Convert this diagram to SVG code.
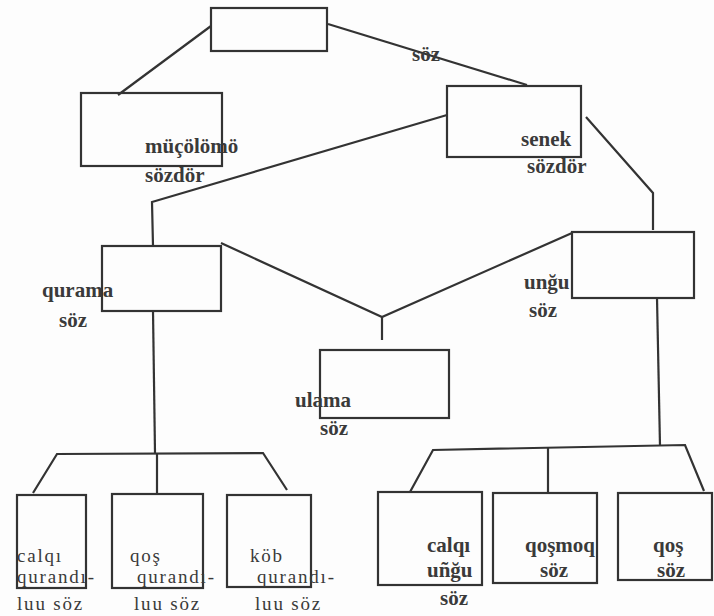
<svg xmlns="http://www.w3.org/2000/svg" width="714" height="616" viewBox="0 0 714 616">
<style>
.box{fill:none;stroke:#333;stroke-width:2.2}
.ln{fill:none;stroke:#333;stroke-width:2.2;stroke-linejoin:miter}
.b{font-family:"Liberation Serif",serif;font-weight:bold;font-size:21px;fill:#3a3a3a}
.r{font-family:"Liberation Serif",serif;font-size:19px;fill:#3a3a3a;letter-spacing:1.8px}
</style>
<rect width="714" height="616" fill="#fdfdfd"/>
<g id="connectors">
<polyline class="ln" points="211,26 118,95"/>
<polyline class="ln" points="328,24 527,85"/>
<polyline class="ln" points="447,115 152,202 153,246"/>
<polyline class="ln" points="586,117 653,193 653,230"/>
<polyline class="ln" points="221,243 382,317 572,233"/>
<polyline class="ln" points="382,317 382,340"/>
<polyline class="ln" points="153,311 155,453"/>
<polyline class="ln" points="33,493 57,454 263,453 287,490"/>
<polyline class="ln" points="157,453 157,494"/>
<polyline class="ln" points="657,298 660,446"/>
<polyline class="ln" points="410,492 433,450 685,445 704,491"/>
<polyline class="ln" points="548,448 548,493"/>
</g>
<g id="root"><rect class="box" x="211" y="8" width="116" height="43"/></g>
<text class="b" x="412" y="61">söz</text>
<g id="mucolomo"><rect class="box" x="81" y="93" width="141" height="73"/>
<text class="b" x="145" y="153">müçölömö</text><text class="b" x="145" y="182">sözdör</text></g>
<g id="senek"><rect class="box" x="447" y="86" width="134" height="71"/>
<text class="b" x="521" y="146">senek</text><text class="b" x="527" y="173">sözdör</text></g>
<g id="qurama"><rect class="box" x="102" y="246" width="119" height="65"/>
<text class="b" x="42" y="297">qurama</text><text class="b" x="59" y="327">söz</text></g>
<g id="ungu"><rect class="box" x="572" y="232" width="122" height="66"/>
<text class="b" x="524" y="289">unğu</text><text class="b" x="529" y="317">söz</text></g>
<g id="ulama"><rect class="box" x="320" y="350" width="129" height="68"/>
<text class="b" x="295" y="407">ulama</text><text class="b" x="320" y="435">söz</text></g>
<g id="calqi-qurandiluu"><rect class="box" x="17" y="495" width="69" height="93"/>
<text class="r" x="17" y="562">calqı</text><text class="r" x="17" y="583">qurandı-</text><text class="r" x="17" y="610">luu söz</text></g>
<g id="qos-qurandiluu"><rect class="box" x="112" y="494" width="91" height="94"/>
<text class="r" x="130" y="562">qoş</text><text class="r" x="137" y="583">qurandı-</text><text class="r" x="134" y="610">luu söz</text></g>
<g id="kob-qurandiluu"><rect class="box" x="227" y="495" width="84" height="92"/>
<text class="r" x="250" y="562">köb</text><text class="r" x="257" y="583">qurandı-</text><text class="r" x="255" y="610">luu söz</text></g>
<g id="calqi-ungu"><rect class="box" x="378" y="492" width="104" height="93"/>
<text class="b" x="427" y="552">calqı</text><text class="b" x="427" y="577">uñğu</text><text class="b" x="440" y="605">söz</text></g>
<g id="qosmoq"><rect class="box" x="493" y="493" width="104" height="90"/>
<text class="b" x="525" y="552">qoşmoq</text><text class="b" x="540" y="577">söz</text></g>
<g id="qos-soz"><rect class="box" x="618" y="493" width="94" height="87"/>
<text class="b" x="653" y="552">qoş</text><text class="b" x="657" y="577">söz</text></g>
</svg>
